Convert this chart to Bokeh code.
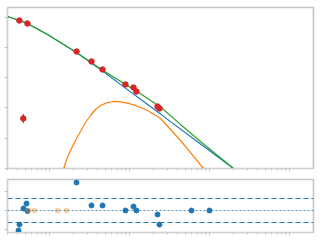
from bokeh.plotting import figure
from bokeh.layouts import column
from bokeh.models import Range1d, FixedTicker, Span, CustomJSTickFormatter
from bokeh.embed import file_html
from bokeh.resources import INLINE

# ---- observed points (energy keV, flux) ----
data_energy = [0.42, 0.53, 2.18, 3.35, 4.60, 8.9, 11.2, 12.2, 22.4, 23.7]
data_flux = [7650, 6100, 726, 340, 185, 59.2, 47.1, 34.8, 11.1, 9.55]
data_flux_lo = [6380, 5080, 605, 283, 154, 49.3, 39.2, 29.0, 9.25, 7.96]
data_flux_hi = [9180, 7320, 871, 408, 222, 71.0, 56.5, 41.8, 13.3, 11.5]

outlier_energy = [0.47]
outlier_flux = [4.47]
outlier_flux_lo = [3.15]
outlier_flux_hi = [6.30]

# ---- model components ----
blue_energy = [0.2985, 0.4217, 0.531, 0.944, 2.175, 4.34, 8.91, 13.72, 24.41, 77.2, 199.5, 325.6]
blue_flux = [10400, 7650, 6100, 2640, 673, 185, 45.0, 19.2, 6.24, 0.648, 0.1, 0.0384]

orange_energy = [1.454, 1.509, 1.585, 1.679, 1.830, 1.995, 2.175, 2.441, 2.818, 3.254, 3.758,
                 4.340, 5.158, 6.310, 7.718, 9.441, 11.55, 13.72, 16.79, 19.95, 24.41,
                 32.54, 43.41, 57.88, 84.14, 109.0]
orange_flux = [0.0587, 0.1, 0.158, 0.231, 0.393, 0.620, 0.977, 1.663, 3.30, 5.61, 8.85,
               12.0, 14.7, 16.3, 15.9, 14.4, 12.4, 10.3, 8.20, 6.30, 4.47,
               1.94, 0.840, 0.337, 0.1, 0.0434]

green_energy = [0.2985, 0.4217, 0.531, 0.944, 2.175, 4.34, 6.31, 8.91, 13.72, 24.41, 43.41, 77.2, 199.5, 325.6]
green_flux = [10400, 7650, 6100, 2640, 673, 197, 105, 59.8, 29.5, 10.7, 2.85, 0.783, 0.1, 0.0345]

# ---- residuals ----
res_energy = [0.410, 0.4217, 0.473, 0.516, 0.531, 2.175, 3.35, 4.60, 8.91, 11.2, 12.2, 22.4, 23.7, 59.6, 100.0]
res_value = [-1.67, -1.17, 0.17, 0.58, -0.05, 2.33, 0.42, 0.42, 0.0, 0.33, 0.0, -0.33, -1.17, 0.0, 0.0]
res_err = [0.15, 0.15, 0.15, 0.15, 0.15, 0.15, 0.15, 0.15, 0.15, 0.15, 0.15, 0.15, 0.15, 0.15, 0.15]

res_faded_energy = [0.546, 0.649, 1.259, 1.631]
res_faded_value = [0.0, 0.0, 0.0, 0.0]

res_band = [-1.0, 1.0]
res_zero = [0.0]

# ---- ticks ----
x_major = [0.1, 1, 10, 100, 1000]
x_minor = [k * 10.0 ** d for d in range(-1, 4) for k in range(2, 10)]
y_major = [0.1, 1, 10, 100, 1000, 10000]
res_ticks = [-1.6, 0.0, 1.6]

BLUE = "#1f77b4"
ORANGE = "#ff7f0e"
GREEN = "#2ca02c"
RED = "#d62728"
GREY = "#c4c4c4"

x_range = Range1d(0.2985, 1995)


def style(p):
    p.outline_line_color = GREY
    p.outline_line_width = 1.6
    p.xgrid.visible = False
    p.ygrid.visible = False
    p.background_fill_color = "white"
    p.border_fill_color = "white"
    for ax in list(p.xaxis) + list(p.yaxis):
        ax.axis_line_color = "#d0d0d0"
        ax.major_tick_line_color = GREY
        ax.minor_tick_line_color = GREY
        ax.major_tick_in = 0
        ax.major_tick_out = 3
        ax.minor_tick_in = 0
        ax.minor_tick_out = 2
        ax.major_label_standoff = 0
        ax.formatter = CustomJSTickFormatter(code="return ''")
        ax.major_label_text_font_size = "1px"


p1 = figure(width=320, height=175, x_axis_type="log", y_axis_type="log",
            x_range=x_range, y_range=Range1d(0.1, 20590),
            output_backend="svg", toolbar_location=None,
            min_border_left=7, min_border_right=7, min_border_top=7, min_border_bottom=7)
style(p1)
p1.xaxis.ticker = FixedTicker(ticks=x_major, minor_ticks=x_minor)
p1.yaxis.ticker = FixedTicker(ticks=y_major, minor_ticks=[])

p1.line(orange_energy, orange_flux, color=ORANGE, line_width=1.2)
p1.line(blue_energy, blue_flux, color=BLUE, line_width=1.2)
p1.line(green_energy, green_flux, color=GREEN, line_width=1.2)
p1.segment(x0=data_energy, y0=data_flux_lo, x1=data_energy, y1=data_flux_hi, color=RED, line_width=1.2)
p1.scatter(data_energy, data_flux, size=5.5, color=RED, line_color=RED)
p1.segment(x0=outlier_energy, y0=outlier_flux_lo, x1=outlier_energy, y1=outlier_flux_hi, color=RED, line_width=1.2)
p1.scatter(outlier_energy, outlier_flux, size=5.5, color=RED, line_color=RED)

p2 = figure(width=320, height=65, x_axis_type="log",
            x_range=x_range, y_range=Range1d(-1.83, 2.58),
            output_backend="svg", toolbar_location=None,
            min_border_left=7, min_border_right=7, min_border_top=4, min_border_bottom=8)
style(p2)
p2.xaxis.ticker = FixedTicker(ticks=x_major, minor_ticks=x_minor)
p2.yaxis.ticker = FixedTicker(ticks=res_ticks, minor_ticks=[])

for v in res_band:
    p2.add_layout(Span(location=v, dimension="width", line_color=BLUE, line_dash="5 3", line_width=1.2))
for v in res_zero:
    p2.add_layout(Span(location=v, dimension="width", line_color=BLUE, line_dash="2 2", line_width=1.2, line_alpha=0.8))

res_lo = [v - e for v, e in zip(res_value, res_err)]
res_hi = [v + e for v, e in zip(res_value, res_err)]
p2.segment(x0=res_energy, y0=res_lo, x1=res_energy, y1=res_hi, color=BLUE, line_width=1, line_alpha=0.6)
p2.scatter(res_energy, res_value, size=5, color=BLUE, line_color=BLUE)
p2.scatter(res_faded_energy, res_faded_value, size=5.5, fill_color=ORANGE, fill_alpha=0.4, line_color=None)

layout = column(p1, p2, spacing=0)
open("out.html", "w").write(file_html(layout, INLINE))
